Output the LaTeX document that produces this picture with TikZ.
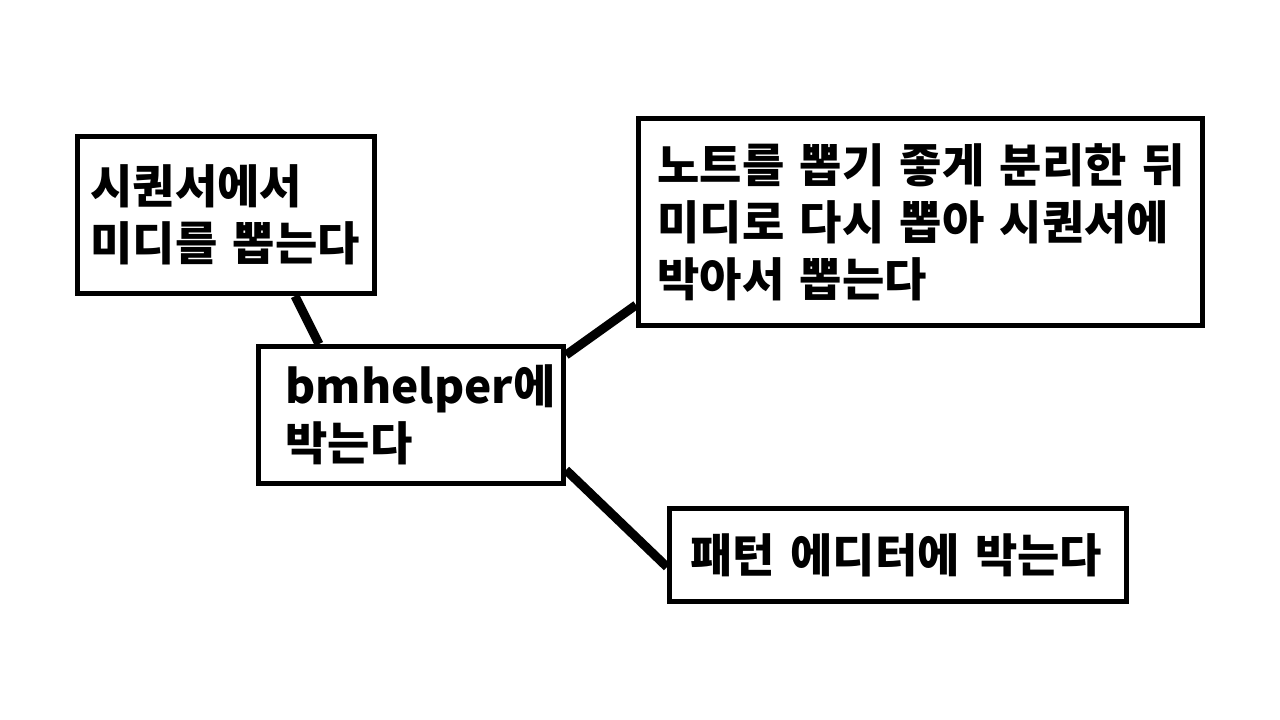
\documentclass[tikz,border=0pt]{standalone}
\usepackage{fontspec}
\setmainfont{Noto Sans CJK KR}
\usetikzlibrary{backgrounds}
\tikzset{
  box/.style={draw=black, line width=5pt, fill=white, rectangle, align=left,
    font=\fontsize{46}{57}\selectfont\bfseries, inner ysep=0pt},
  link/.style={draw=black, line width=9pt}
}
\begin{document}
\begin{tikzpicture}[x=1pt,y=-1pt]
\useasboundingbox (0,0) rectangle (1280,720);
\node[box, minimum width=297pt, minimum height=157pt, inner xsep=13pt, text width=271pt] (tl) at (226,215) {시퀀서에서\\미디를 뽑는다};
\node[box, minimum width=305pt, minimum height=137pt, inner xsep=27pt, text width=251pt] (ctr) at (411,415) {bmhelper에\\박는다};
\node[box, minimum width=564pt, minimum height=207pt, inner xsep=19pt, text width=526pt] (tr) at (920.5,222) {\mbox{노트를 뽑기 좋게 분리한 뒤}\\\mbox{미디로 다시 뽑아 시퀀서에}\\박아서 뽑는다};
\node[box, minimum width=457pt, minimum height=93pt, inner xsep=21pt, text width=415pt] (br) at (898,555) {패턴 에디터에 박는다};
\begin{pgfonlayer}{background}
\fill[white] (0,0) rectangle (1280,720);
\draw[link] ([xshift=69pt]tl.south) -- ([xshift=-92pt]ctr.north);
\draw[link] ([yshift=60pt]ctr.east) -- ([yshift=-83pt]tr.west);
\draw[link] ([yshift=-55pt]ctr.east) -- ([yshift=-12pt]br.west);
\end{pgfonlayer}
\end{tikzpicture}
\end{document}
